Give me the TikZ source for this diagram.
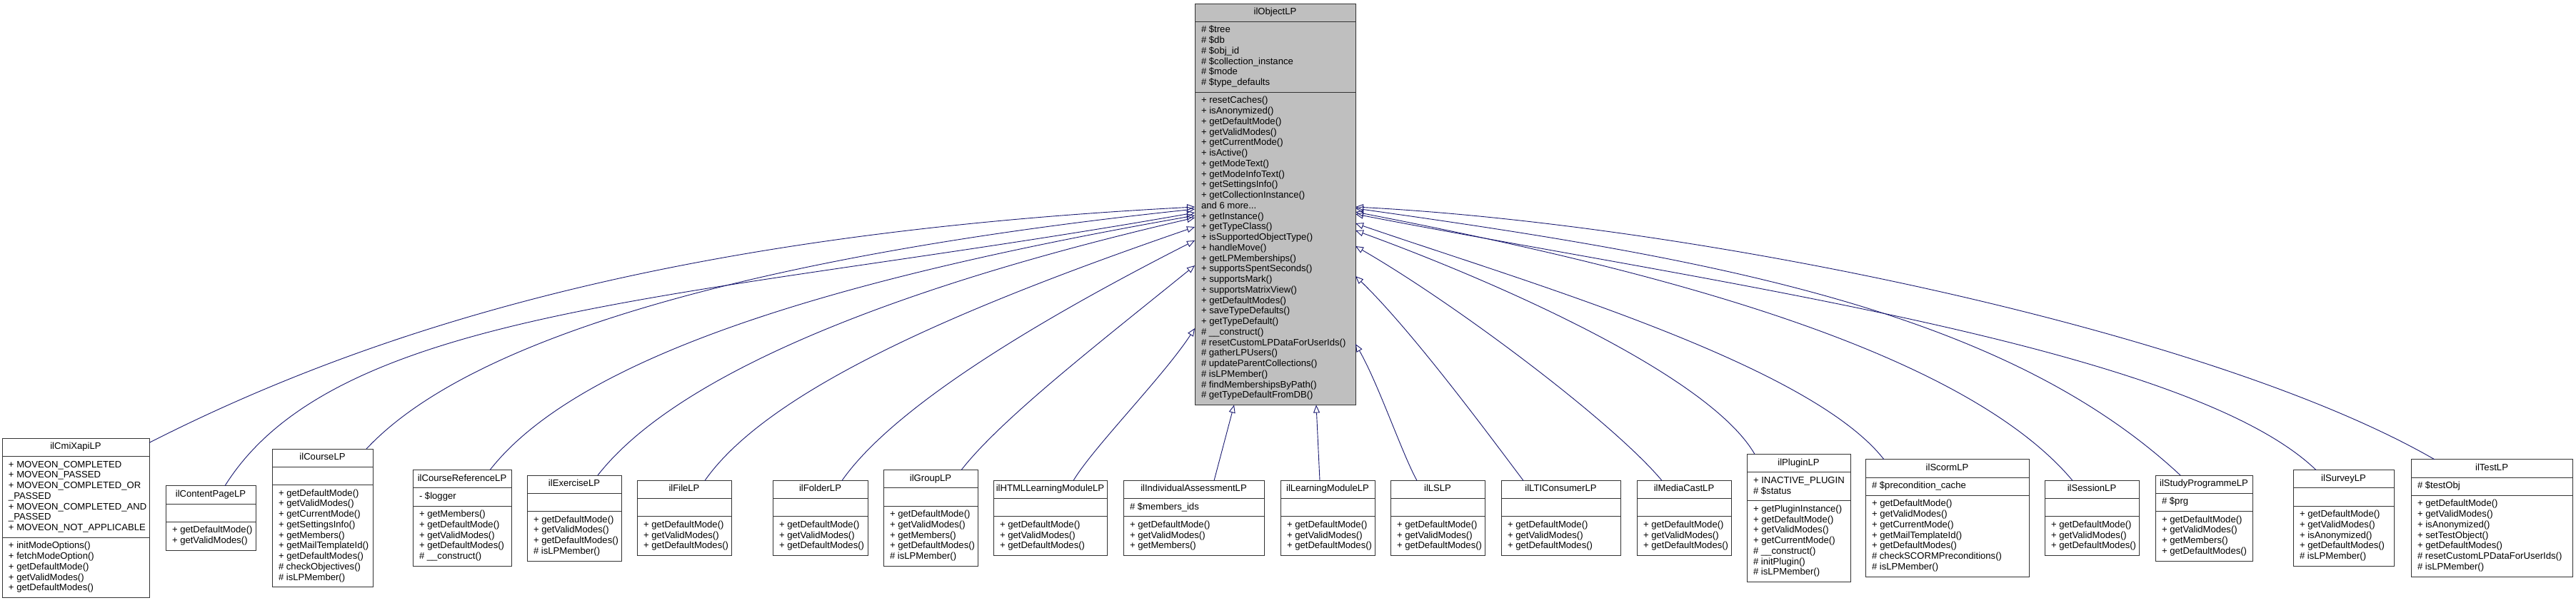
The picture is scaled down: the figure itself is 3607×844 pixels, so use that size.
\documentclass[tikz,border=0pt]{standalone}
\usepackage{fontspec}
\setmainfont{Liberation Sans}
\usetikzlibrary{arrows.meta}
\definecolor{edgeblue}{HTML}{191970}
\definecolor{topfill}{HTML}{BFBFBF}
\newcommand\fsz{\fontsize{13.1}{14.75}\selectfont}
\newcommand\threedots{...}
\def\boxfill{white}
\tikzset{
  classbox/.style={draw=black!80, line width=1pt, inner sep=0pt, outer sep=0pt},
  boxline/.style={draw=black!80, line width=1pt},
  txt/.style={inner sep=0pt, outer sep=0pt, font=\fsz, text=black},
  edge/.style={draw=edgeblue, line width=0.9pt, -{Triangle[open,length=11pt,width=9pt]}}
}
% #1 name, #2 left, #3 right, #4 centre y (pixels, downwards), #5 attr lines, #6 method lines, #7 title, #8 attrs, #9 methods
\newcommand\umlclass[9]{%
  \pgfmathsetmacro\hT{25.25}%
  \pgfmathsetmacro\hA{#5*14.75+10.5}%
  \pgfmathsetmacro\hM{#6*14.75+10.5}%
  \pgfmathsetmacro\hH{\hT+\hA+\hM}%
  \pgfmathsetmacro\yTop{#4-\hH/2}%
  \pgfmathsetmacro\yA{\yTop+\hT}%
  \pgfmathsetmacro\yM{\yA+\hA}%
  \pgfmathsetmacro\cx{(#2+#3)/2}%
  \pgfmathsetmacro\ww{#3-#2}%
  \node[classbox, fill=\boxfill, minimum width=\ww pt, minimum height=\hH pt] (#1) at ({\cx},{-#4}) {};
  \draw[boxline] ({#2},{-\yA}) -- ({#3},{-\yA}) ({#2},{-\yM}) -- ({#3},{-\yM});
  \node[txt, anchor=base] (#1-t) at ({\cx},{-(\yTop+15.5)}) {#7};
  \foreach[count=\k] \itm in {#8} {\node[txt, anchor=base west] (#1-a\k) at ({#2+9},{-(\yA+15.5+(\k-1)*14.75)}) {\itm};}
  \foreach[count=\k] \itm in {#9} {\node[txt, anchor=base west] (#1-m\k) at ({#2+9},{-(\yM+15.5+(\k-1)*14.75)}) {\itm};}
}
\begin{document}
\begin{tikzpicture}[x=1pt,y=1pt]
\useasboundingbox (0,0) rectangle (3607,-844);
\fill[white] (0,0) rectangle (3607,-844);

\def\boxfill{topfill}
\umlclass{ilObjectLP}{1673}{1898}{286.25}{6}{29}{ilObjectLP}
 {{\# \$tree},{\# \$db},{\# \$obj\_id},{\# \$collection\_instance},{\# \$mode},{\# \$type\_defaults}}
 {{+ resetCaches()},{+ isAnonymized()},{+ getDefaultMode()},{+ getValidModes()},{+ getCurrentMode()},{+ isActive()},{+ getModeText()},{+ getModeInfoText()},{+ getSettingsInfo()},{+ getCollectionInstance()},{and 6 more\threedots},{+ getInstance()},{+ getTypeClass()},{+ isSupportedObjectType()},{+ handleMove()},{+ getLPMemberships()},{+ supportsSpentSeconds()},{+ supportsMark()},{+ supportsMatrixView()},{+ getDefaultModes()},{+ saveTypeDefaults()},{+ getTypeDefault()},{\# \_\_construct()},{\# resetCustomLPDataForUserIds()},{\# gatherLPUsers()},{\# updateParentCollections()},{\# isLPMember()},{\# findMembershipsByPath()},{\# getTypeDefaultFromDB()}}

\def\boxfill{white}
\umlclass{ilCmiXapiLP}{3}{209}{726}{7}{5}{ilCmiXapiLP}
 {{+ MOVEON\_COMPLETED},{+ MOVEON\_PASSED},{+ MOVEON\_COMPLETED\_OR},{\_PASSED},{+ MOVEON\_COMPLETED\_AND},{\_PASSED},{+ MOVEON\_NOT\_APPLICABLE}}
 {{+ initModeOptions()},{+ fetchModeOption()},{+ getDefaultMode()},{+ getValidModes()},{+ getDefaultModes()}}
\umlclass{ilContentPageLP}{232}{358}{726}{1}{2}{ilContentPageLP}{}
 {{+ getDefaultMode()},{+ getValidModes()}}
\umlclass{ilCourseLP}{381}{522}{726}{1}{9}{ilCourseLP}{}
 {{+ getDefaultMode()},{+ getValidModes()},{+ getCurrentMode()},{+ getSettingsInfo()},{+ getMembers()},{+ getMailTemplateId()},{+ getDefaultModes()},{\# checkObjectives()},{\# isLPMember()}}
\umlclass{ilCourseReferenceLP}{578}{716}{726}{1}{5}{ilCourseReferenceLP}
 {{- \$logger}}
 {{+ getMembers()},{+ getDefaultMode()},{+ getValidModes()},{+ getDefaultModes()},{\# \_\_construct()}}
\umlclass{ilExerciseLP}{738}{870}{726}{1}{4}{ilExerciseLP}{}
 {{+ getDefaultMode()},{+ getValidModes()},{+ getDefaultModes()},{\# isLPMember()}}
\umlclass{ilFileLP}{892}{1024}{726}{1}{3}{ilFileLP}{}
 {{+ getDefaultMode()},{+ getValidModes()},{+ getDefaultModes()}}
\umlclass{ilFolderLP}{1082}{1215}{726}{1}{3}{ilFolderLP}{}
 {{+ getDefaultMode()},{+ getValidModes()},{+ getDefaultModes()}}
\umlclass{ilGroupLP}{1237}{1369}{726}{1}{5}{ilGroupLP}{}
 {{+ getDefaultMode()},{+ getValidModes()},{+ getMembers()},{+ getDefaultModes()},{\# isLPMember()}}
\umlclass{ilHTMLLearningModuleLP}{1391}{1550}{726}{1}{3}{ilHTMLLearningModuleLP}{}
 {{+ getDefaultMode()},{+ getValidModes()},{+ getDefaultModes()}}
\umlclass{ilIndividualAssessmentLP}{1573}{1770}{726}{1}{3}{ilIndividualAssessmentLP}
 {{\# \$members\_ids}}
 {{+ getDefaultMode()},{+ getValidModes()},{+ getMembers()}}
\umlclass{ilLearningModuleLP}{1793}{1925}{726}{1}{3}{ilLearningModuleLP}{}
 {{+ getDefaultMode()},{+ getValidModes()},{+ getDefaultModes()}}
\umlclass{ilLSLP}{1947}{2079}{726}{1}{3}{ilLSLP}{}
 {{+ getDefaultMode()},{+ getValidModes()},{+ getDefaultModes()}}
\umlclass{ilLTIConsumerLP}{2102}{2269}{726}{1}{3}{ilLTIConsumerLP}{}
 {{+ getDefaultMode()},{+ getValidModes()},{+ getDefaultModes()}}
\umlclass{ilMediaCastLP}{2292}{2424}{726}{1}{3}{ilMediaCastLP}{}
 {{+ getDefaultMode()},{+ getValidModes()},{+ getDefaultModes()}}
\umlclass{ilPluginLP}{2446}{2591}{726}{2}{7}{ilPluginLP}
 {{+ INACTIVE\_PLUGIN},{\# \$status}}
 {{+ getPluginInstance()},{+ getDefaultMode()},{+ getValidModes()},{+ getCurrentMode()},{\# \_\_construct()},{\# initPlugin()},{\# isLPMember()}}
\umlclass{ilScormLP}{2612}{2841}{726}{1}{7}{ilScormLP}
 {{\# \$precondition\_cache}}
 {{+ getDefaultMode()},{+ getValidModes()},{+ getCurrentMode()},{+ getMailTemplateId()},{+ getDefaultModes()},{\# checkSCORMPreconditions()},{\# isLPMember()}}
\umlclass{ilSessionLP}{2863}{2995}{726}{1}{3}{ilSessionLP}{}
 {{+ getDefaultMode()},{+ getValidModes()},{+ getDefaultModes()}}
\umlclass{ilStudyProgrammeLP}{3018}{3154}{726}{1}{4}{ilStudyProgrammeLP}
 {{\# \$prg}}
 {{+ getDefaultMode()},{+ getValidModes()},{+ getMembers()},{+ getDefaultModes()}}
\umlclass{ilSurveyLP}{3211}{3352}{726}{1}{5}{ilSurveyLP}{}
 {{+ getDefaultMode()},{+ getValidModes()},{+ isAnonymized()},{+ getDefaultModes()},{\# isLPMember()}}
\umlclass{ilTestLP}{3376}{3602}{726}{1}{7}{ilTestLP}
 {{\# \$testObj}}
 {{+ getDefaultMode()},{+ getValidModes()},{+ isAnonymized()},{+ setTestObject()},{+ getDefaultModes()},{\# resetCustomLPDataForUserIds()},{\# isLPMember()}}

% inheritance edges, left side
\draw[edge] ([yshift=-6pt]ilCmiXapiLP.north east) .. controls +(27:450pt) and +(183:600pt) .. ([yshift=-3.75pt]ilObjectLP.west);
\draw[edge] ([xshift=20pt]ilContentPageLP.north) .. controls +(58:300pt) and +(190:700pt) .. ([yshift=-11.75pt]ilObjectLP.west);
\draw[edge] ([xshift=61.5pt]ilCourseLP.north) .. controls +(47:250pt) and +(186:500pt) .. ([yshift=-6.75pt]ilObjectLP.west);
\draw[edge] ([xshift=39pt]ilCourseReferenceLP.north) .. controls +(52:220pt) and +(190:450pt) .. ([yshift=-15.75pt]ilObjectLP.west);
\draw[edge] ([xshift=33pt]ilExerciseLP.north) .. controls +(52:190pt) and +(193:400pt) .. ([yshift=-18.75pt]ilObjectLP.west);
\draw[edge] ([xshift=29pt]ilFileLP.north) .. controls +(55:160pt) and +(199:330pt) .. ([yshift=-31.75pt]ilObjectLP.west);
\draw[edge] ([xshift=30.5pt]ilFolderLP.north) .. controls +(55:125pt) and +(207:250pt) .. ([yshift=-50.75pt]ilObjectLP.west);
\draw[edge] ([xshift=43pt]ilGroupLP.north) .. controls +(52:90pt) and +(219:180pt) .. ([yshift=-85.75pt]ilObjectLP.west);
\draw[edge] ([xshift=32.5pt]ilHTMLLearningModuleLP.north) .. controls +(59:55pt) and +(237:80pt) .. ([yshift=-173.75pt]ilObjectLP.west);
% bottom
\draw[edge] ([xshift=28.5pt]ilIndividualAssessmentLP.north) -- ([xshift=-57.5pt]ilObjectLP.south);
\draw[edge] ([xshift=-11pt]ilLearningModuleLP.north) -- ([xshift=57.5pt]ilObjectLP.south);
% right side
\draw[edge] ([xshift=-29pt]ilLSLP.north) .. controls +(119:42pt) and +(300:63pt) .. ([yshift=-195.75pt]ilObjectLP.east);
\draw[edge] ([xshift=-52.5pt]ilLTIConsumerLP.north) .. controls +(127:74pt) and +(316:111pt) .. ([yshift=-100.75pt]ilObjectLP.east);
\draw[edge] ([xshift=-31pt]ilMediaCastLP.north) .. controls +(130:108pt) and +(330:162pt) .. ([yshift=-58.75pt]ilObjectLP.east);
\draw[edge] ([xshift=-61.5pt]ilPluginLP.north) .. controls +(120:130pt) and +(340:200pt) .. ([yshift=-36.75pt]ilObjectLP.east);
\draw[edge] ([xshift=-88.5pt]ilScormLP.north) .. controls +(128:170pt) and +(341:250pt) .. ([yshift=-26.75pt]ilObjectLP.east);
\draw[edge] ([xshift=-27pt]ilSessionLP.north) .. controls +(130:260pt) and +(349:350pt) .. ([yshift=-10.75pt]ilObjectLP.east);
\draw[edge] ([xshift=-33pt]ilStudyProgrammeLP.north) .. controls +(137:340pt) and +(352:500pt) .. ([yshift=-5.75pt]ilObjectLP.east);
\draw[edge] ([xshift=-38.5pt]ilSurveyLP.north) .. controls +(136:250pt) and +(349:500pt) .. ([yshift=-13.75pt]ilObjectLP.east);
\draw[edge] ([xshift=-80pt]ilTestLP.north) .. controls +(150:360pt) and +(357:480pt) .. ([yshift=-3.75pt]ilObjectLP.east);
\end{tikzpicture}
\end{document}
